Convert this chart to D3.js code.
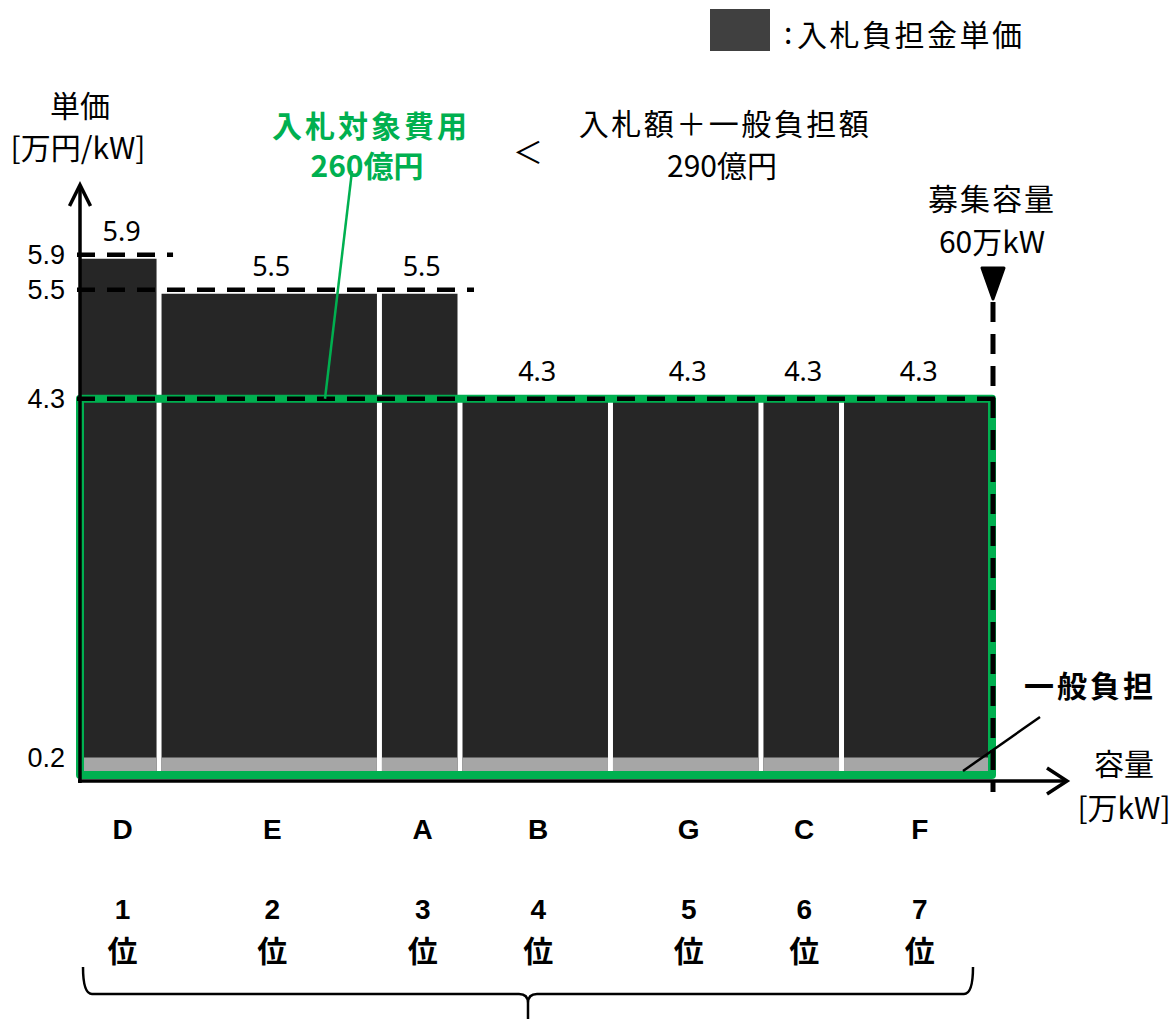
<!DOCTYPE html>
<html>
<head>
<meta charset="utf-8">
<script src="https://cdn.jsdelivr.net/npm/d3@7"></script>
<style>
  body { margin: 0; background: #fff; }
  svg { display: block; }
</style>
</head>
<body>
<svg id="chart" width="1173" height="1019"></svg>
<script>
// Bidders in merit order, their offered capacity (万kW) and unit price (万円/kW)
const bidders = ["D", "E", "A", "B", "G", "C", "F"];
const ranks = ["1", "2", "3", "4", "5", "6", "7"];
const capacity = [5.2, 14.5, 5.3, 9.9, 9.9, 5.3, 9.9];
const unitPrice = [5.9, 5.5, 5.5, 4.3, 4.3, 4.3, 4.3];
const generalBurden = [0.2, 0.2, 0.2, 0.2, 0.2, 0.2, 0.2];
const priceTicks = [0.2, 4.3, 5.5, 5.9];
const clearingPrice = 4.3;
const recruitCapacity = 60;

const CJK = "'Noto Sans CJK JP', 'Noto Sans', sans-serif";
const NUM = "'Noto Sans', 'Noto Sans CJK JP', sans-serif";
const ARIAL = "'Liberation Sans', Arial, sans-serif";
const GREEN = "#00b050";

const svg = d3.select("#chart");
svg.append("rect").attr("width", 1173).attr("height", 1019).attr("fill", "#fff");

const x = d3.scaleLinear().domain([0, recruitCapacity]).range([80, 992]);
const y = d3.scaleLinear().domain([0, 6]).range([775, 775 - 6 * 87.5]);

// cumulative start of each bar along the capacity axis
const starts = d3.cumsum([0, ...capacity]).slice(0, capacity.length);
const bars = bidders.map((b, i) => ({
  name: b, rank: ranks[i], cap: capacity[i], price: unitPrice[i],
  burden: generalBurden[i], x0: starts[i], x1: starts[i] + capacity[i]
}));
const mid = d => (x(d.x0) + x(d.x1)) / 2;
const halfGap = 2.5;
const barX = (d, i) => x(d.x0) + (i === 0 ? 0 : halfGap);
const barW = (d, i) => x(d.x1) - x(d.x0) - (i === 0 ? halfGap : 2 * halfGap);

// bars: dark bid price, grey general-burden share at the bottom
const g = svg.append("g");
g.selectAll("rect.bid").data(bars).join("rect")
  .attr("x", barX).attr("width", barW)
  .attr("y", d => y(d.price))
  .attr("height", d => y(0) - y(d.price))
  .attr("fill", "#262626");
g.selectAll("rect.burden").data(bars).join("rect")
  .attr("x", barX).attr("width", barW)
  .attr("y", d => y(d.burden))
  .attr("height", d => y(0) - y(d.burden))
  .attr("fill", "#a6a6a6");

// bid-target cost region (clearing price × recruited capacity)
svg.append("rect")
  .attr("x", x(0)).attr("y", y(clearingPrice))
  .attr("width", x(recruitCapacity) - x(0))
  .attr("height", y(0) - y(clearingPrice))
  .attr("fill", "none").attr("stroke", GREEN).attr("stroke-width", 8)
  .attr("stroke-linejoin", "round");

// dashed price guides, lifted slightly where they sit above a bar top
const lift = v => (v > clearingPrice ? 4 : 0);
const guideEnd = v => x(d3.max(bars.filter(b => b.price >= v), b => b.x1)) + (v > clearingPrice ? 14 : 10);
priceTicks.filter(v => v >= clearingPrice).forEach(v => {
  svg.append("line")
    .attr("x1", 77).attr("x2", guideEnd(v))
    .attr("y1", y(v) - lift(v)).attr("y2", y(v) - lift(v))
    .attr("stroke", "#000").attr("stroke-width", 4.5)
    .attr("stroke-dasharray", "18,12");
});

// recruited-capacity marker
svg.append("line")
  .attr("x1", x(recruitCapacity) + 1).attr("x2", x(recruitCapacity) + 1)
  .attr("y1", 302).attr("y2", 792)
  .attr("stroke", "#000").attr("stroke-width", 5)
  .attr("stroke-dasharray", "20,12");
svg.append("path")
  .attr("d", `M${x(recruitCapacity) - 10},268 L${x(recruitCapacity) + 12},268 L${x(recruitCapacity) + 1},299 Z`)
  .attr("fill", "#000").attr("stroke", "#000").attr("stroke-width", 3)
  .attr("stroke-linejoin", "round");

// axes with open arrowheads
const axisStyle = sel => sel.attr("stroke", "#000").attr("fill", "none")
  .attr("stroke-width", 3.5).attr("stroke-linejoin", "miter").attr("stroke-linecap", "butt");
svg.append("line").attr("x1", 80).attr("x2", 80).attr("y1", 783).attr("y2", 185).call(axisStyle);
svg.append("polyline").attr("points", "69.5,206 80,185 90.5,206").call(axisStyle);
svg.append("line").attr("x1", 78).attr("x2", 1066).attr("y1", 781).attr("y2", 781).call(axisStyle);
svg.append("polyline").attr("points", "1047,768 1067,781 1047,794").call(axisStyle);

// y tick labels
svg.selectAll("text.tick").data(priceTicks).join("text")
  .attr("x", 65).attr("y", v => y(v) - lift(v))
  .attr("text-anchor", "end").attr("dominant-baseline", "central")
  .attr("font-family", ARIAL).attr("font-size", 27).attr("fill", "#000")
  .text(v => v.toFixed(1));

// value labels above bars
svg.selectAll("text.val").data(bars).join("text")
  .attr("x", d => mid(d) + 2).attr("y", d => y(d.price) - 18)
  .attr("text-anchor", "middle")
  .attr("font-family", NUM).attr("font-size", 27).attr("fill", "#000")
  .text(d => d.price.toFixed(1));

// bidder names and ranks
svg.selectAll("text.name").data(bars).join("text")
  .attr("x", d => mid(d) + 3).attr("y", 829)
  .attr("text-anchor", "middle").attr("dominant-baseline", "central")
  .attr("font-family", ARIAL).attr("font-weight", "bold")
  .attr("font-size", 28).text(d => d.name);
svg.selectAll("text.rank").data(bars).join("text")
  .attr("x", d => mid(d) + 3).attr("y", 909)
  .attr("text-anchor", "middle").attr("dominant-baseline", "central")
  .attr("font-family", ARIAL).attr("font-weight", "bold")
  .attr("font-size", 28).text(d => d.rank);
svg.selectAll("text.pos").data(bars).join("text")
  .attr("x", d => mid(d) + 3).attr("y", 949)
  .attr("text-anchor", "middle").attr("dominant-baseline", "central")
  .attr("font-family", CJK).attr("font-weight", "bold")
  .attr("font-size", 30).text("位");

// brace grouping all bidders
svg.append("path")
  .attr("d", "M83,967 Q83,994 92,994 L519,994 Q528,994 528,1003 L528,1019 M528,1003 Q528,994 537,994 L964,994 Q973,994 973,967")
  .attr("fill", "none").attr("stroke", "#000").attr("stroke-width", 2.5);

// free text
const label = (txt, cx, cy, opts = {}) => svg.append("text")
  .attr("x", cx).attr("y", cy)
  .attr("text-anchor", opts.anchor || "middle").attr("dominant-baseline", "central")
  .attr("font-family", CJK).attr("font-size", opts.size || 30)
  .attr("font-weight", opts.weight || "normal")
  .attr("letter-spacing", opts.ls || 0)
  .attr("fill", opts.fill || "#000").text(txt);

// legend
svg.append("rect").attr("x", 710).attr("y", 9).attr("width", 60).attr("height", 42).attr("fill", "#404040");
label(":", 784, 31, { anchor: "start" });
label("入札負担金単価", 797, 33, { anchor: "start", ls: 2.5 });

label("単価", 80, 104);
label("[万円/kW]", 78, 146);

label("入札対象費用", 371, 124, { weight: "bold", fill: GREEN, ls: 3 });
label("260億円", 367, 164, { weight: "bold", fill: GREEN });
label("＜", 528, 150);
label("入札額＋一般負担額", 725, 122, { ls: 2.5 });
label("290億円", 722, 164);

label("募集容量", 992, 197, { ls: 2 });
label("60万kW", 992, 240);

label("一般負担", 1090, 684, { weight: "bold", ls: 3 });
label("容量", 1124, 762);
label("[万kW]", 1124, 806);

// leader lines
svg.append("line").attr("x1", 352).attr("y1", 171).attr("x2", 325).attr("y2", y(clearingPrice))
  .attr("stroke", GREEN).attr("stroke-width", 2.5);
svg.append("line").attr("x1", 1040).attr("y1", 717).attr("x2", 963).attr("y2", 771)
  .attr("stroke", "#000").attr("stroke-width", 2.5);
</script>
</body>
</html>
